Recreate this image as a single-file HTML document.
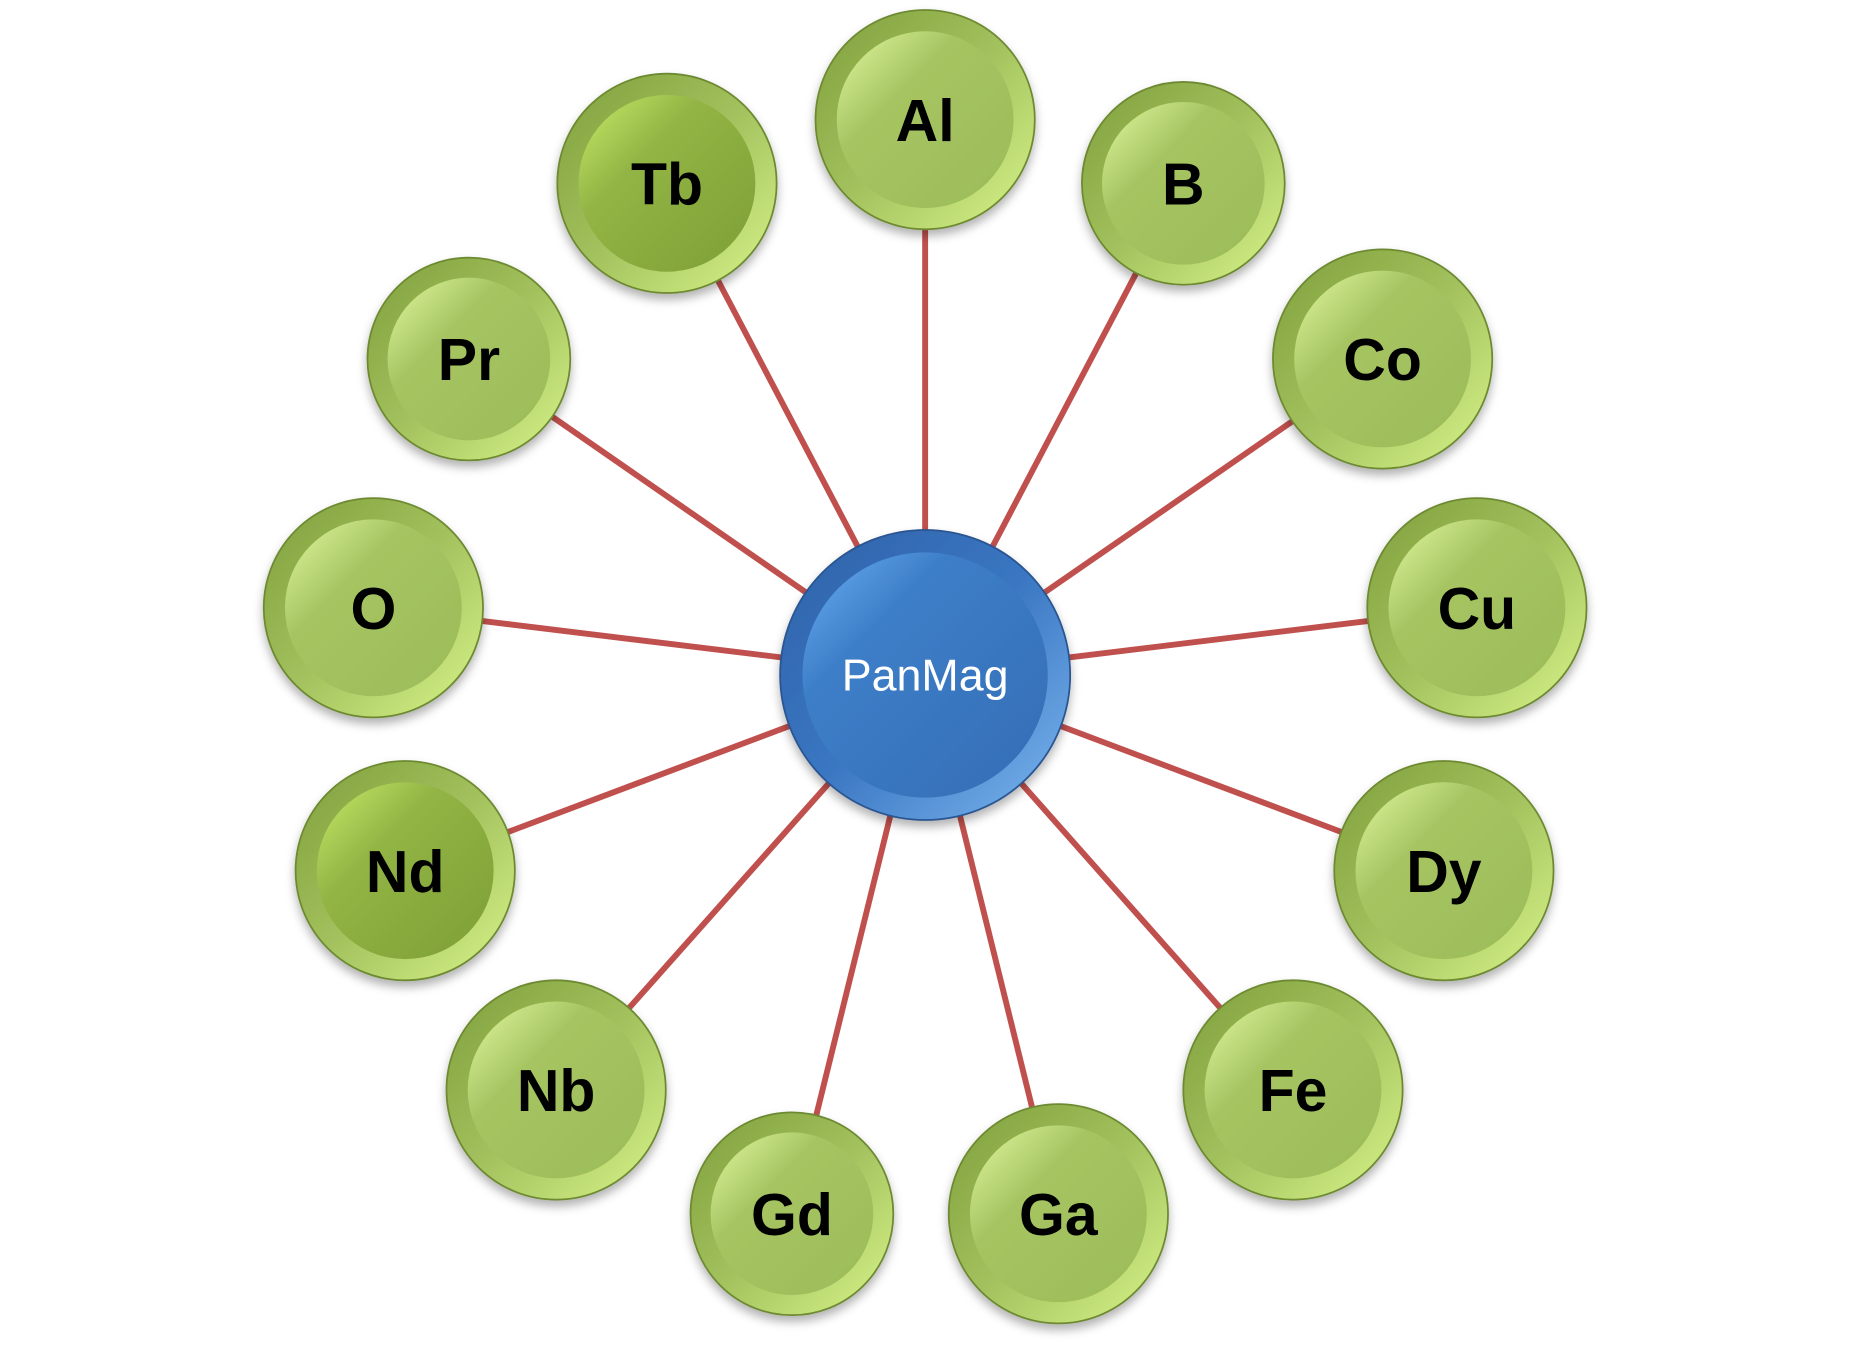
<!DOCTYPE html>
<html><head><meta charset="utf-8"><style>
html,body{margin:0;padding:0;background:#fff;}
svg{display:block;}
text{font-family:"Liberation Sans",sans-serif;}
</style></head><body>
<svg width="1849" height="1350" viewBox="0 0 1560 1139" preserveAspectRatio="none" xmlns="http://www.w3.org/2000/svg">
<defs>
<linearGradient id="ring" x1="0" y1="0" x2="1" y2="1">
<stop offset="0" stop-color="#7f9f3c"/><stop offset="0.5" stop-color="#a3c25e"/><stop offset="1" stop-color="#d9f58a"/>
</linearGradient>
<linearGradient id="inner" x1="0" y1="0" x2="1" y2="1">
<stop offset="0" stop-color="#e2f8a0"/><stop offset="0.35" stop-color="#a6c562"/><stop offset="1" stop-color="#9cbb58"/>
</linearGradient>
<linearGradient id="innerD" x1="0" y1="0" x2="1" y2="1">
<stop offset="0" stop-color="#c8ec6a"/><stop offset="0.35" stop-color="#92b545"/><stop offset="1" stop-color="#7d9e35"/>
</linearGradient>
<linearGradient id="bring" x1="0" y1="0" x2="1" y2="1">
<stop offset="0" stop-color="#2f62a8"/><stop offset="0.5" stop-color="#3a76c2"/><stop offset="1" stop-color="#7db8f0"/>
</linearGradient>
<linearGradient id="binner" x1="0" y1="0" x2="1" y2="1">
<stop offset="0" stop-color="#6ab0f5"/><stop offset="0.3" stop-color="#3d7ec8"/><stop offset="1" stop-color="#346db5"/>
</linearGradient>
<filter id="sh" x="-20%" y="-20%" width="140%" height="150%"><feDropShadow dx="0" dy="5" stdDeviation="4" flood-color="#000" flood-opacity="0.3"/></filter>
</defs>
<g transform="translate(0.7,0.5) scale(0.9947)">
<g stroke="#c0504d" stroke-width="5">
<line x1="784" y1="572" x2="784" y2="101"/>
<line x1="784" y1="572" x2="565" y2="155"/>
<line x1="784" y1="572" x2="1003" y2="155"/>
<line x1="784" y1="572" x2="397" y2="304"/>
<line x1="784" y1="572" x2="1172" y2="304"/>
<line x1="784" y1="572" x2="316" y2="515"/>
<line x1="784" y1="572" x2="1252" y2="515"/>
<line x1="784" y1="572" x2="343" y2="738"/>
<line x1="784" y1="572" x2="1224" y2="738"/>
<line x1="784" y1="572" x2="471" y2="924"/>
<line x1="784" y1="572" x2="1096" y2="924"/>
<line x1="784" y1="572" x2="671" y2="1029"/>
<line x1="784" y1="572" x2="897" y2="1029"/>
</g>
<g font-weight="bold" font-size="50" text-anchor="middle" fill="#000">
<g filter="url(#sh)"><circle cx="784" cy="101" r="93" fill="url(#ring)" stroke="#6d8a30" stroke-width="1.5"/><circle cx="784" cy="101" r="75" fill="url(#inner)"/></g><text x="784" y="119">Al</text>
<g filter="url(#sh)"><circle cx="565" cy="155" r="93" fill="url(#ring)" stroke="#6d8a30" stroke-width="1.5"/><circle cx="565" cy="155" r="75" fill="url(#innerD)"/></g><text x="565" y="173">Tb</text>
<g filter="url(#sh)"><circle cx="1003" cy="155" r="86" fill="url(#ring)" stroke="#6d8a30" stroke-width="1.5"/><circle cx="1003" cy="155" r="69" fill="url(#inner)"/></g><text x="1003" y="173">B</text>
<g filter="url(#sh)"><circle cx="397" cy="304" r="86" fill="url(#ring)" stroke="#6d8a30" stroke-width="1.5"/><circle cx="397" cy="304" r="69" fill="url(#inner)"/></g><text x="397" y="322">Pr</text>
<g filter="url(#sh)"><circle cx="1172" cy="304" r="93" fill="url(#ring)" stroke="#6d8a30" stroke-width="1.5"/><circle cx="1172" cy="304" r="75" fill="url(#inner)"/></g><text x="1172" y="322">Co</text>
<g filter="url(#sh)"><circle cx="316" cy="515" r="93" fill="url(#ring)" stroke="#6d8a30" stroke-width="1.5"/><circle cx="316" cy="515" r="75" fill="url(#inner)"/></g><text x="316" y="533">O</text>
<g filter="url(#sh)"><circle cx="1252" cy="515" r="93" fill="url(#ring)" stroke="#6d8a30" stroke-width="1.5"/><circle cx="1252" cy="515" r="75" fill="url(#inner)"/></g><text x="1252" y="533">Cu</text>
<g filter="url(#sh)"><circle cx="343" cy="738" r="93" fill="url(#ring)" stroke="#6d8a30" stroke-width="1.5"/><circle cx="343" cy="738" r="75" fill="url(#innerD)"/></g><text x="343" y="756">Nd</text>
<g filter="url(#sh)"><circle cx="1224" cy="738" r="93" fill="url(#ring)" stroke="#6d8a30" stroke-width="1.5"/><circle cx="1224" cy="738" r="75" fill="url(#inner)"/></g><text x="1224" y="756">Dy</text>
<g filter="url(#sh)"><circle cx="471" cy="924" r="93" fill="url(#ring)" stroke="#6d8a30" stroke-width="1.5"/><circle cx="471" cy="924" r="75" fill="url(#inner)"/></g><text x="471" y="942">Nb</text>
<g filter="url(#sh)"><circle cx="1096" cy="924" r="93" fill="url(#ring)" stroke="#6d8a30" stroke-width="1.5"/><circle cx="1096" cy="924" r="75" fill="url(#inner)"/></g><text x="1096" y="942">Fe</text>
<g filter="url(#sh)"><circle cx="671" cy="1029" r="86" fill="url(#ring)" stroke="#6d8a30" stroke-width="1.5"/><circle cx="671" cy="1029" r="69" fill="url(#inner)"/></g><text x="671" y="1047">Gd</text>
<g filter="url(#sh)"><circle cx="897" cy="1029" r="93" fill="url(#ring)" stroke="#6d8a30" stroke-width="1.5"/><circle cx="897" cy="1029" r="75" fill="url(#inner)"/></g><text x="897" y="1047">Ga</text>
</g>
<g filter="url(#sh)"><circle cx="784" cy="572" r="123" fill="url(#bring)" stroke="#2a5590" stroke-width="1.5"/><circle cx="784" cy="572" r="104" fill="url(#binner)"/></g>
<text x="784" y="585" font-size="38" text-anchor="middle" fill="#fff">PanMag</text>
</g>
</svg>
</body></html>
